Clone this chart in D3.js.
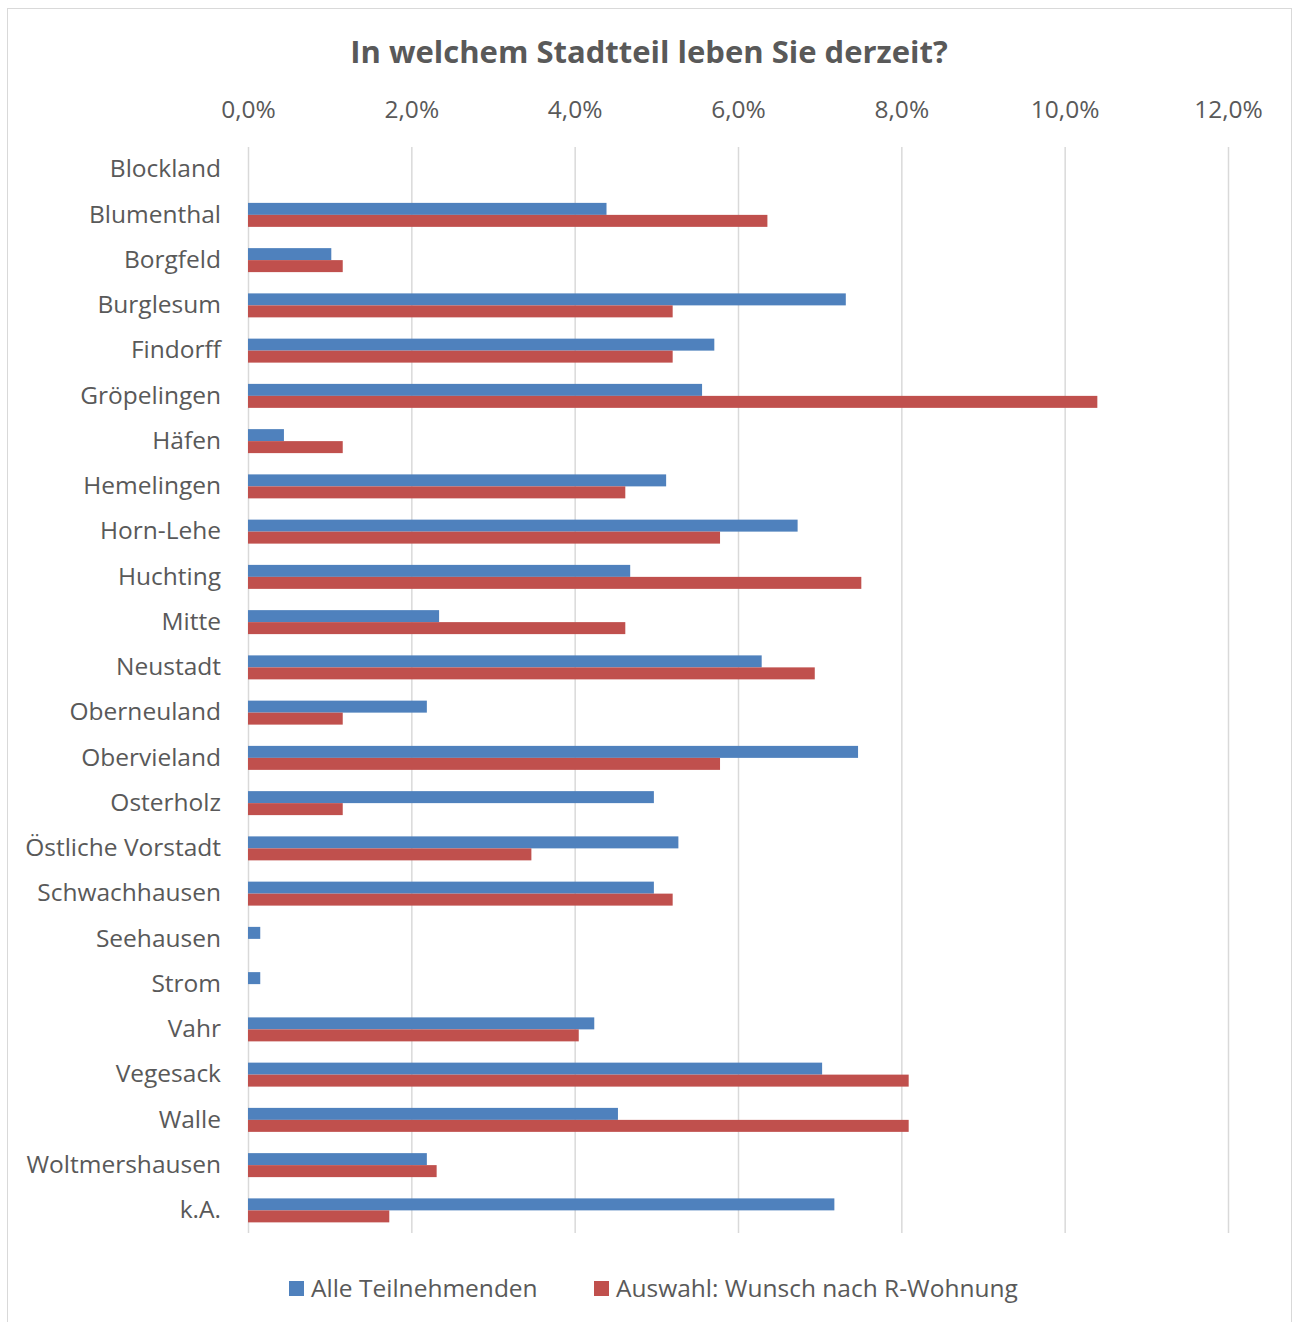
<!DOCTYPE html>
<html><head><meta charset="utf-8">
<script src="https://cdn.jsdelivr.net/npm/d3@7"></script>
<style>body{margin:0;background:#fff}text{font-family:"Open Sans",sans-serif}</style>
</head><body><svg id="c" width="1293" height="1322"></svg>
<script>
const categories = ["Blockland","Blumenthal","Borgfeld","Burglesum","Findorff","Gröpelingen","Häfen","Hemelingen","Horn-Lehe","Huchting","Mitte","Neustadt","Oberneuland","Obervieland","Osterholz","Östliche Vorstadt","Schwachhausen","Seehausen","Strom","Vahr","Vegesack","Walle","Woltmershausen","k.A."];
const seriesNames = ["Alle Teilnehmenden","Auswahl: Wunsch nach R-Wohnung"];
const alle = [0,4.39,1.02,7.32,5.71,5.56,0.44,5.12,6.73,4.68,2.34,6.29,2.19,7.47,4.97,5.27,4.97,0.15,0.15,4.24,7.03,4.53,2.19,7.18];
const wunsch = [0,6.36,1.16,5.20,5.20,10.40,1.16,4.62,5.78,7.51,4.62,6.94,1.16,5.78,1.16,3.47,5.20,0,0,4.05,8.09,8.09,2.31,1.73];
const ticks = [0,2,4,6,8,10,12];
const colors = ["#4F81BD","#C0504D"];
const FONT = "'Open Sans',sans-serif";
const FS = 24.5;

const svg = d3.select("#c");
svg.append("rect").attr("x",7.5).attr("y",8.5).attr("width",1284).attr("height",1330)
  .attr("fill","none").attr("stroke","#D9D9D9");

const x = d3.scaleLinear().domain([0,12]).range([248,1228]);
const y = d3.scaleBand().domain(categories).range([147,1233]).paddingInner(0.47).paddingOuter(0.235);
const ys = d3.scaleBand().domain(seriesNames).range([0,y.bandwidth()]);

svg.append("text").attr("x",649).attr("y",63).attr("text-anchor","middle")
  .attr("font-size",31).attr("font-weight","bold").attr("fill","#595959")
  .text("In welchem Stadtteil leben Sie derzeit?");

const fmt = v => d3.format(".1f")(v).replace(".",",") + "%";
const xAxis = d3.axisTop(x).tickValues(ticks).tickFormat(fmt).tickSize(-(1233-147)).tickPadding(29);
const gx = svg.append("g").attr("transform","translate(0,147)").call(xAxis);
gx.select(".domain").remove();
gx.selectAll(".tick line").attr("stroke","#D9D9D9").attr("stroke-width",1.5);
gx.selectAll(".tick text").attr("font-size",FS).attr("fill","#595959").attr("font-family",FONT);

const yAxis = d3.axisLeft(y).tickSize(0).tickPadding(27);
const gy = svg.append("g").attr("transform","translate(248,0)").call(yAxis);
gy.select(".domain").remove();
gy.selectAll(".tick text").attr("font-size",FS).attr("fill","#595959").attr("font-family",FONT);

const data = [alle, wunsch];
data.forEach((arr,si) => {
  svg.append("g").selectAll("rect").data(arr).join("rect")
    .attr("x", x(0))
    .attr("y", (d,i) => y(categories[i]) + ys(seriesNames[si]))
    .attr("width", d => x(d) - x(0))
    .attr("height", ys.bandwidth())
    .attr("fill", colors[si]);
});

const leg = svg.append("g");
const legX = [289, 594];
seriesNames.forEach((s,i) => {
  leg.append("rect").attr("x",legX[i]).attr("y",1281).attr("width",15).attr("height",15).attr("fill",colors[i]);
  leg.append("text").attr("x",legX[i]+22).attr("y",1297).attr("font-size",FS).attr("fill","#595959").text(s);
});
</script></body></html>
